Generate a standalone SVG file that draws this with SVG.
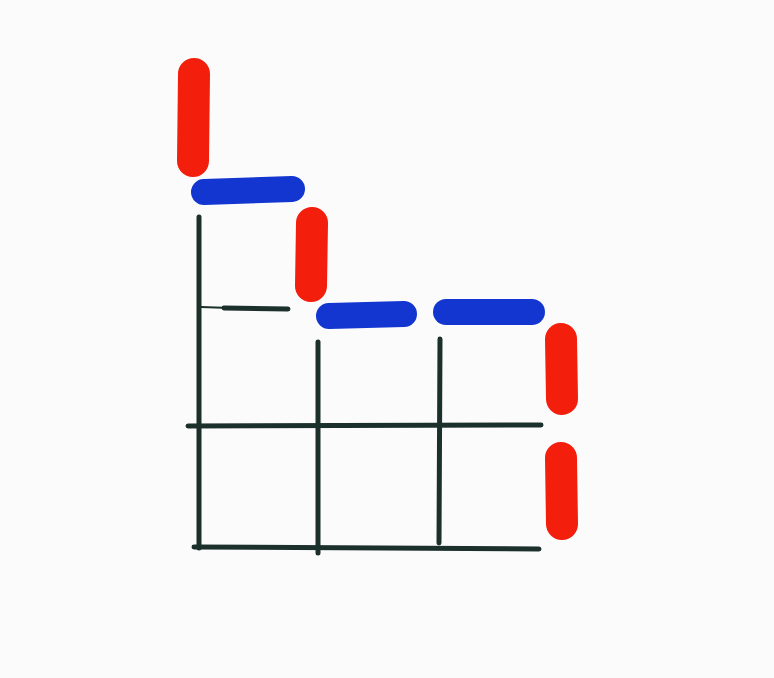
<svg xmlns="http://www.w3.org/2000/svg" width="774" height="678" viewBox="0 0 774 678">
<style>
.ink{stroke:#1c302b;stroke-width:5;stroke-linecap:round;fill:none}
.red{stroke:#f41e0c;stroke-width:32;stroke-linecap:round;fill:none}
.blue{stroke:#1236cf;stroke-width:26;stroke-linecap:round;fill:none}
</style>
<rect width="774" height="678" fill="#fbfbfb"/>
<g id="grid">
<path class="ink" d="M199 217 L199 548"/>
<path class="ink" d="M318 342 L318 553"/>
<path class="ink" d="M440 339 L439 543"/>
<path class="ink" d="M188 426 L541 425"/>
<path class="ink" d="M194 547 L539 549"/>
<path class="ink" d="M201 307 L230 308" style="stroke-width:2"/>
<path class="ink" d="M224 308 L288 309" style="stroke-width:5"/>
</g>
<g id="red-marks">
<path class="red" d="M194 74 L193 161"/>
<path class="red" d="M312 223 L311 286"/>
<path class="red" d="M561 339 L562 399"/>
<path class="red" d="M561 458 L562 524"/>
</g>
<g id="blue-marks">
<path class="blue" d="M204 192 L292 189"/>
<path class="blue" d="M329 316 L404 314"/>
<path class="blue" d="M446 312 L532 312"/>
</g>
</svg>
